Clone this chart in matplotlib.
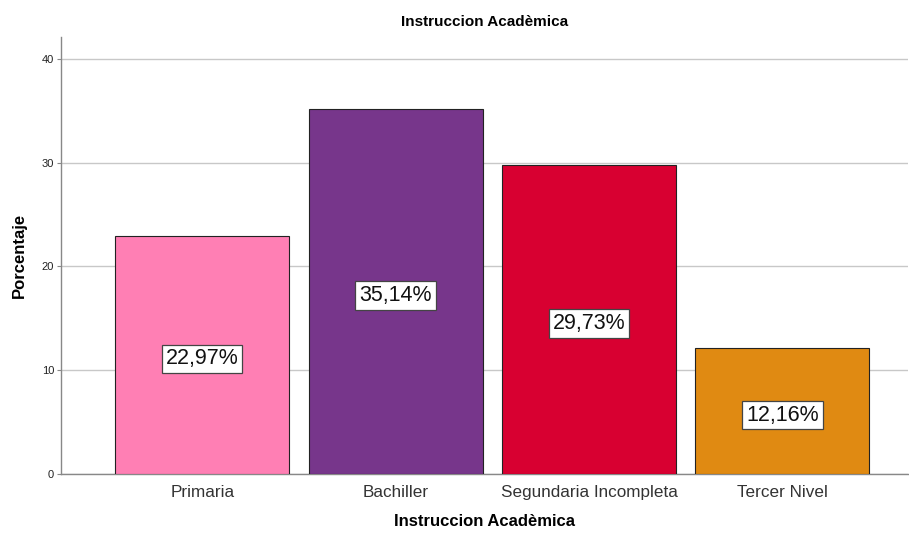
import matplotlib
matplotlib.use("Agg")
import matplotlib.pyplot as plt

categories = ["Primaria", "Bachiller", "Segundaria Incompleta", "Tercer Nivel"]
values = [22.97, 35.14, 29.73, 12.16]
labels = ["22,97%", "35,14%", "29,73%", "12,16%"]
colors = ["#FF7FB4", "#77368B", "#D80031", "#E08A12"]
yticks = [0, 10, 20, 30, 40]

plt.rcParams['font.family'] = ['Liberation Sans', 'DejaVu Sans']

fig = plt.figure(figsize=(9.09, 5.35), dpi=100)
ax = fig.add_axes([0.0671, 0.114, 0.932, 0.817])

x = list(range(len(categories)))
bars = ax.bar(x, values, width=0.9, color=colors, edgecolor="#222222", linewidth=0.8, zorder=3)

for xi, v, lab in zip(x, values, labels):
    ax.text(xi, v / 2 - 0.4, lab, ha="center", va="center", fontsize=15.5, color="#111111", zorder=4,
            bbox=dict(boxstyle="square,pad=0.18", facecolor="white", edgecolor="#444444", linewidth=0.9))

ax.set_xlim(-0.73, 3.65)
ax.set_ylim(0, 42.1)
ax.set_yticks(yticks)
ax.set_yticklabels([str(t) for t in yticks], fontsize=8, color="#222222")
ax.set_xticks(x)
ax.set_xticklabels(categories, fontsize=12.3, color="#333333")
ax.tick_params(axis="x", length=0, pad=8)
ax.tick_params(axis="y", length=3, width=0.8, color="#888888", pad=2)
ax.yaxis.grid(True, color="#C8C8C8", linewidth=1, zorder=0)
ax.set_axisbelow(True)

for s in ["top", "right"]:
    ax.spines[s].set_visible(False)
for s in ["left", "bottom"]:
    ax.spines[s].set_color("#888888")
    ax.spines[s].set_linewidth(1)

ax.set_ylabel("Porcentaje", fontsize=12, fontweight="bold", labelpad=11)
ax.set_xlabel("Instruccion Acadèmica", fontsize=12, fontweight="bold", labelpad=10)
fig.text(0.5 * (0.0671 + 0.999), 1 - 22 / 535, "Instruccion Acadèmica", ha="center", va="center",
         fontsize=11, fontweight="bold")

fig.savefig("out.png", dpi=100)
